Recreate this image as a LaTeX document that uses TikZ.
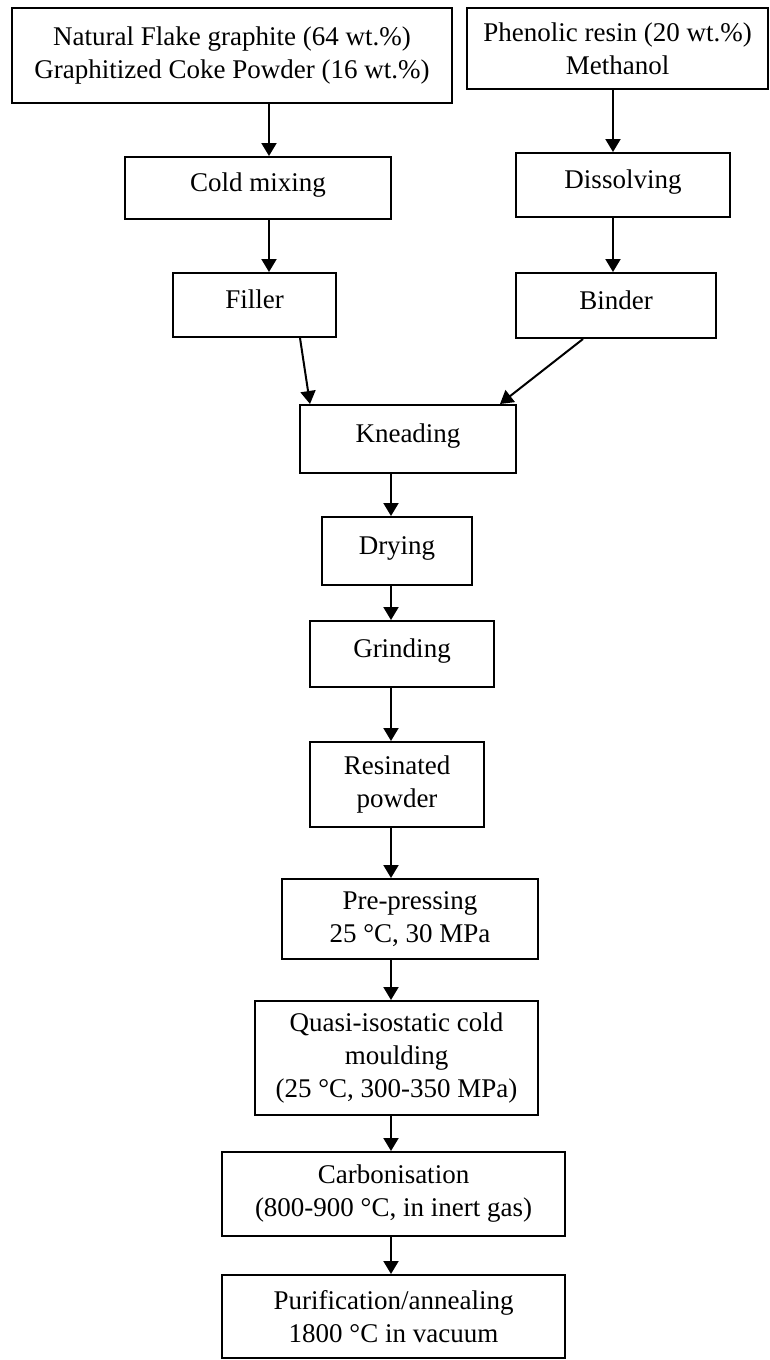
\documentclass[tikz,border=0pt]{standalone}
\usepackage{fontspec}
\setmainfont{Liberation Serif}
\usetikzlibrary{arrows.meta,calc}

\begin{document}
\begin{tikzpicture}[x=0.5pt, y=-0.5pt, >={Triangle[length=6.5pt,width=7.5pt]},
    box/.style={draw, line width=1pt, inner sep=0pt, align=center,
        font=\fontsize{13.5}{16.5}\selectfont},
    oneline/.style={box, text height=0.7em, text depth=0.35em},
    flow/.style={->, line width=1pt}]
    \useasboundingbox (0,0) rectangle (770,1360);

    % column axes
    \coordinate (L) at (269,0);
    \coordinate (R) at (613,0);
    \coordinate (M) at (391,0);

    \node[box, minimum width=220pt, minimum height=47.5pt] (raw) at (232,55.5)
        {Natural Flake graphite (64 wt.\%)\\Graphitized Coke Powder (16 wt.\%)};
    \node[box, minimum width=150.5pt, minimum height=40.5pt] (resin) at (617.5,48.5)
        {Phenolic resin (20 wt.\%)\\Methanol};
    \node[oneline, minimum width=133pt, minimum height=31pt] (mix) at (258,188) {Cold mixing};
    \node[oneline, minimum width=107pt, minimum height=32pt] (dissolve) at (623,185) {Dissolving};
    \node[oneline, minimum width=81.5pt, minimum height=32pt] (filler) at (254.5,305) {Filler};
    \node[oneline, minimum width=100pt, minimum height=32.5pt] (binder) at (616,305.5) {Binder};
    \node[oneline, minimum width=108pt, minimum height=34pt] (knead) at (408,439) {Kneading};
    \node[oneline, minimum width=75pt, minimum height=34pt] (dry) at (397,551) {Drying};
    \node[oneline, minimum width=92pt, minimum height=33pt] (grind) at (402,654) {Grinding};
    \node[box, minimum width=87pt, minimum height=42.5pt] (powder) at (397,784.5)
        {Resinated\\powder};
    \node[box, minimum width=128pt, minimum height=40pt] (press) at (410,919)
        {Pre-pressing\\25 °C, 30 MPa};
    \node[box, minimum width=141.5pt, minimum height=57pt] (mould) at (396.5,1058)
        {Quasi-isostatic cold\\moulding\\(25 °C, 300-350 MPa)};
    \node[box, minimum width=171.5pt, minimum height=42pt] (carb) at (393.5,1194)
        {Carbonisation\\(800-900 °C, in inert gas)};
    \node[box, minimum width=171.5pt, minimum height=41.5pt] (purif) at (393.5,1316.5)
        {Purification/annealing\\1800 °C in vacuum};

    \draw[flow] (raw.south -| L) -- (mix.north -| L);
    \draw[flow] (mix.south -| L) -- (filler.north -| L);
    \draw[flow] (resin.south -| R) -- (dissolve.north -| R);
    \draw[flow] (dissolve.south -| R) -- (binder.north -| R);

    \draw[flow] ($(filler.south)+(45.5,0)$) -- ($(knead.north)+(-98,0)$);
    \draw[flow] ($(binder.south)+(-33,0)$) -- ($(knead.north)+(92,0)$);

    \draw[flow] (knead.south -| M) -- (dry.north -| M);
    \draw[flow] (dry.south -| M) -- (grind.north -| M);
    \draw[flow] (grind.south -| M) -- (powder.north -| M);
    \draw[flow] (powder.south -| M) -- (press.north -| M);
    \draw[flow] (press.south -| M) -- (mould.north -| M);
    \draw[flow] (mould.south -| M) -- (carb.north -| M);
    \draw[flow] (carb.south -| M) -- (purif.north -| M);
\end{tikzpicture}
\end{document}
